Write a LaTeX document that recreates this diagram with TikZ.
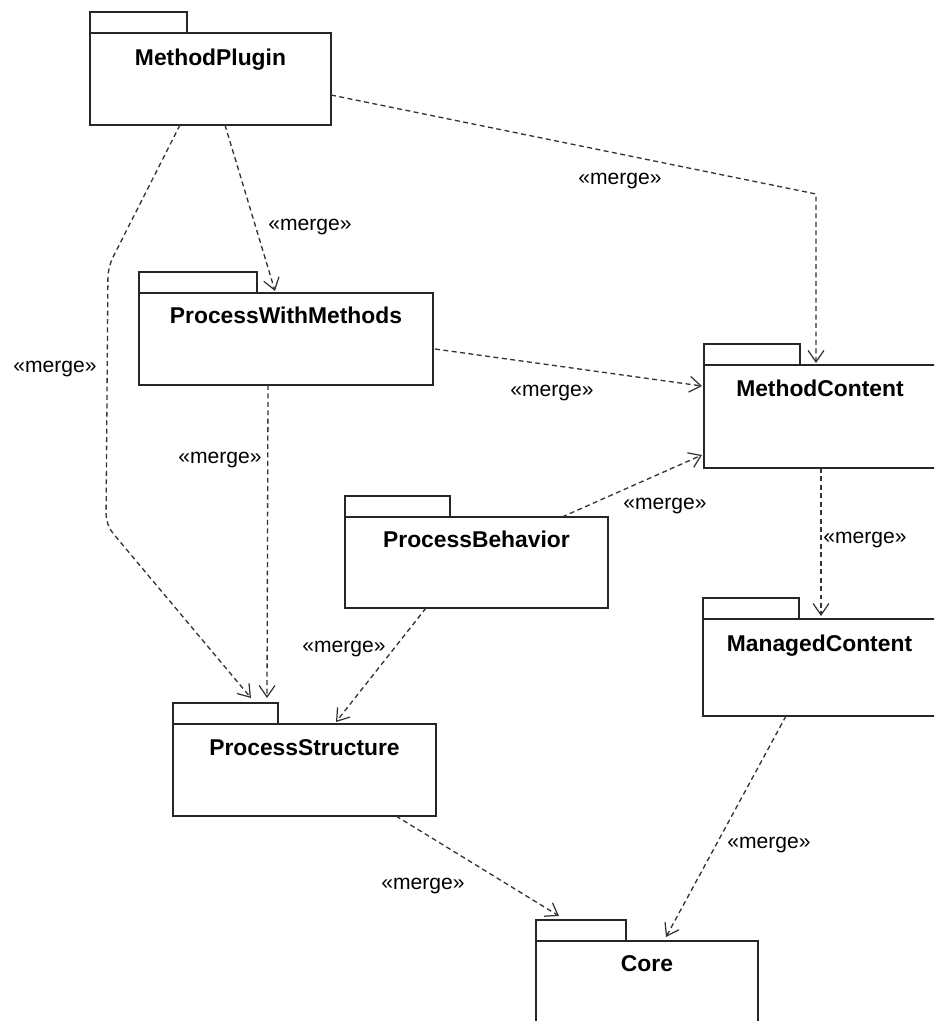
\documentclass[tikz,border=0pt]{standalone}
\usepackage{fontspec}
\setmainfont{Liberation Sans}
\usetikzlibrary{arrows.meta,calc}
\begin{document}
\begin{tikzpicture}[x=0.02cm,y=-0.02cm,
  pkg/.style={draw=black!85,line width=0.9pt,rectangle,anchor=north west,inner sep=0pt,outer sep=0pt},
  tabbox/.style={draw=black!85,line width=0.9pt},
  pname/.style={anchor=base,inner sep=0pt,font=\fontsize{13}{15}\selectfont\bfseries},
  mlabel/.style={inner sep=0pt,font=\fontsize{12}{14}\selectfont},
  merge/.style={draw=black!80,line width=0.75pt,dash pattern=on 2.8pt off 2pt,
    -{Straight Barb[length=6.5pt,width=9pt,line width=0.7pt]}}
]
\useasboundingbox (0,0) rectangle (934,1021);
\clip (0,0) rectangle (934,1021);
\fill[white] (0,0) rectangle (934,1021);

% packages
\node[pkg,minimum width=4.82cm,minimum height=1.84cm] (mp) at (90,33) {};
\draw[tabbox] (mp.north west) rectangle ++(97,-21);
\node[pname] (mpt) at ($(mp.north)+(0,32)$) {MethodPlugin};

\node[pkg,minimum width=5.88cm,minimum height=1.84cm] (pwm) at (139,293) {};
\draw[tabbox] (pwm.north west) rectangle ++(118,-21);
\node[pname] (pwmt) at ($(pwm.north)+(0,30)$) {ProcessWithMethods};

\node[pkg,minimum width=4.64cm,minimum height=2.06cm] (mc) at (704,365) {};
\draw[tabbox] (mc.north west) rectangle ++(96,-21);
\node[pname] (mct) at ($(mc.north)+(0,31)$) {MethodContent};

\node[pkg,minimum width=5.26cm,minimum height=1.82cm] (pb) at (345,517) {};
\draw[tabbox] (pb.north west) rectangle ++(105,-21);
\node[pname] (pbt) at ($(pb.north)+(0,30)$) {ProcessBehavior};

\node[pkg,minimum width=4.66cm,minimum height=1.94cm] (mgc) at (703,619) {};
\draw[tabbox] (mgc.north west) rectangle ++(96,-21);
\node[pname] (mgct) at ($(mgc.north)+(0,32)$) {ManagedContent};

\node[pkg,minimum width=5.26cm,minimum height=1.84cm] (ps) at (173,724) {};
\draw[tabbox] (ps.north west) rectangle ++(105,-21);
\node[pname] (pst) at ($(ps.north)+(0,31)$) {ProcessStructure};

\node[pkg,minimum width=4.44cm,minimum height=2.0cm] (core) at (536,941) {};
\draw[tabbox] (core.north west) rectangle ++(90,-21);
\node[pname] (coret) at ($(core.north)+(0,30)$) {Core};

% bend points
\coordinate (b1) at (816,194);
\coordinate (b2) at (108,267);
\coordinate (b3) at (106,525);

% connectors
\draw[merge] ($(mp.north west)+(241,62)$) -- (b1) -- ($(mc.north west)+(112,-2)$);
\draw[merge] ($(mp.north west)+(135,92)$) -- ($(pwm.north west)+(136,-2)$);
\draw[merge,rounded corners=6] ($(mp.north west)+(90,92)$) -- (b2) -- (b3) -- ($(ps.north west)+(78,-26)$);
\draw[merge] ($(pwm.north west)+(296,56)$) -- ($(mc.north west)+(-2,21)$);
\draw[merge] ($(pwm.north west)+(129,92)$) -- ($(ps.north west)+(94,-26)$);
\draw[merge] ($(pb.north west)+(217,0)$) -- ($(mc.north west)+(-2,90)$);
\draw[merge] ($(pb.north west)+(81,91)$) -- ($(ps.north west)+(163,-2)$);
\draw[merge] ($(mc.north west)+(117,103)$) -- ($(mgc.north west)+(118,-3)$);
\draw[merge] ($(mgc.north west)+(83,97)$) -- ($(core.north west)+(130,-4)$);
\draw[merge] ($(ps.north west)+(223,92)$) -- ($(core.north west)+(23,-25)$);

% labels
\node[mlabel] (l1) at (620,181) {«merge»};
\node[mlabel] (l2) at (310,227) {«merge»};
\node[mlabel] (l3) at (55,369) {«merge»};
\node[mlabel] (l4) at (552,393) {«merge»};
\node[mlabel] (l5) at (220,460) {«merge»};
\node[mlabel] (l6) at (665,506) {«merge»};
\node[mlabel] (l7) at (344,649) {«merge»};
\node[mlabel] (l8) at (865,540) {«merge»};
\node[mlabel] (l9) at (769,845) {«merge»};
\node[mlabel] (l10) at (423,886) {«merge»};
\end{tikzpicture}
\end{document}
